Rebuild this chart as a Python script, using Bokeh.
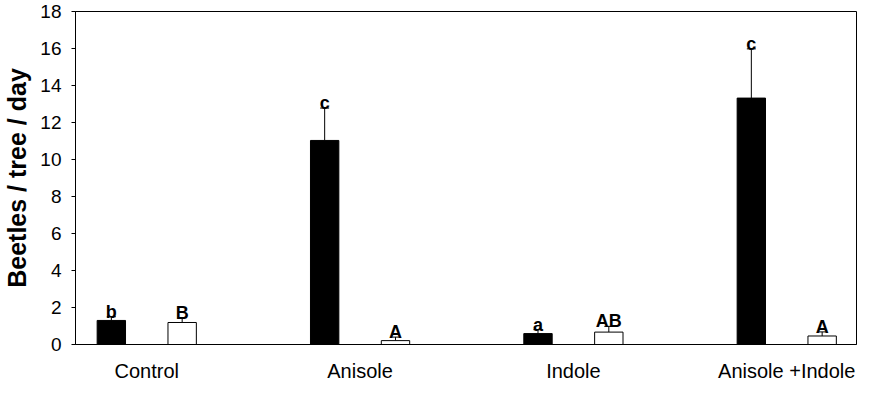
from bokeh.plotting import figure
from bokeh.models import Range1d, FixedTicker, ColumnDataSource, Whisker, TeeHead
from bokeh.core.properties import value
from bokeh.embed import file_html
from bokeh.resources import INLINE

# ---- data ----
categories = ["Control", "Anisole", "Indole", "Anisole +Indole"]
black_means = [1.30, 11.03, 0.59, 13.32]
black_se = [0.20, 1.75, 0.21, 2.66]
white_means = [1.19, 0.21, 0.67, 0.46]
white_se = [0.26, 0.19, 0.31, 0.22]
black_letters = ["b", "c", "a", "c"]
white_letters = ["B", "A", "AB", "A"]
y_ticks = [0, 2, 4, 6, 8, 10, 12, 14, 16, 18]
y_label = "Beetles / tree / day"

# ---- style ----
OFFSET = 0.166
BAR_W = 0.133
FONT = "Liberation Sans"

idx = list(range(len(categories)))
bx = [i - OFFSET for i in idx]
wx = [i + OFFSET for i in idx]

black_src = ColumnDataSource(dict(
    x=bx, top=black_means,
    upper=[m + s for m, s in zip(black_means, black_se)],
    letter=black_letters))
white_src = ColumnDataSource(dict(
    x=wx, top=white_means,
    upper=[m + s for m, s in zip(white_means, white_se)],
    letter=white_letters))

p = figure(width=860, height=384, output_backend="svg", toolbar_location=None,
           x_range=Range1d(-0.334, 3.327), y_range=Range1d(0, 18),
           min_border_left=72, min_border_right=4, min_border_top=11,
           min_border_bottom=34)
p.background_fill_color = "white"
p.border_fill_color = "white"
p.outline_line_color = "black"
p.outline_line_width = 1
p.xgrid.visible = False
p.ygrid.visible = False

p.vbar(x="x", top="top", bottom=0, width=BAR_W, source=black_src,
       fill_color="black", line_color="black", line_width=1)
p.vbar(x="x", top="top", bottom=0, width=BAR_W, source=white_src,
       fill_color="white", line_color="black", line_width=1)

for src in (black_src, white_src):
    w = Whisker(base="x", lower="top", upper="upper", source=src,
                line_color="black", line_width=1,
                upper_head=TeeHead(size=9, line_color="black", line_width=1),
                lower_head=None)
    p.add_layout(w)
    p.text(x="x", y="upper", text="letter", source=src,
           text_font=value(FONT), text_font_style="bold",
           text_font_size="18px", text_align="center",
           text_baseline="alphabetic", y_offset=-5, text_color="black")

# y axis
ya = p.yaxis[0]
ya.ticker = FixedTicker(ticks=y_ticks)
ya.axis_label = y_label
ya.axis_label_text_font = FONT
ya.axis_label_text_font_style = "bold"
ya.axis_label_text_font_size = "25px"
ya.axis_label_standoff = 6
ya.major_label_text_font = FONT
ya.major_label_text_font_size = "19px"
ya.major_label_standoff = 10
ya.major_tick_out = 4
ya.major_tick_in = 0
ya.minor_tick_line_color = None
ya.axis_line_color = "black"
ya.major_tick_line_color = "black"
ya.major_label_text_color = "black"
ya.axis_label_text_color = "black"

# x axis
xa = p.xaxis[0]
xa.ticker = FixedTicker(ticks=idx)
xa.major_label_overrides = {i: c for i, c in zip(idx, categories)}
xa.major_label_text_font = FONT
xa.major_label_text_font_size = "20px"
xa.major_label_standoff = 9
xa.major_tick_line_color = None
xa.minor_tick_line_color = None
xa.axis_line_color = "black"
xa.major_label_text_color = "black"

open("out.html", "w").write(file_html(p, INLINE))
